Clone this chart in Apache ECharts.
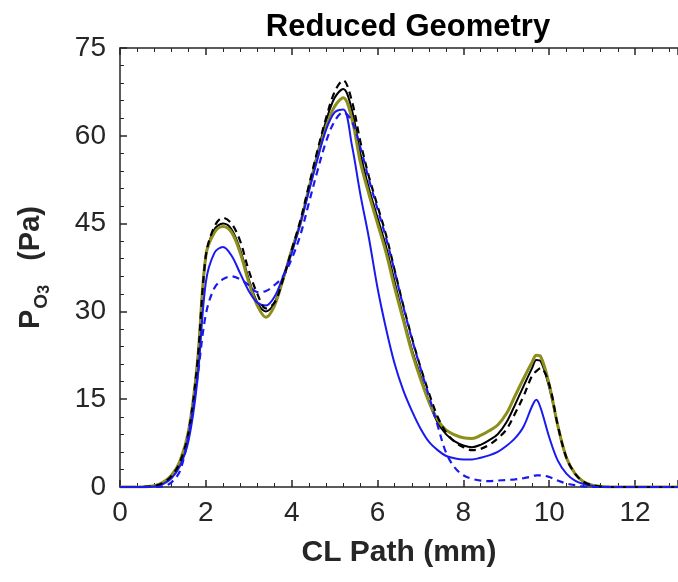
<!DOCTYPE html>
<html>
<head>
<meta charset="utf-8">
<script src="https://cdn.jsdelivr.net/npm/echarts@6/dist/echarts.min.js"></script>
<style>
html,body{margin:0;padding:0;background:#fff;}
#chart{width:678px;height:582px;}
</style>
</head>
<body>
<div id="chart"></div>
<script>
// CL path positions (mm)
const xValues = [0, 0.5, 0.8, 1.0, 1.2, 1.4, 1.6, 1.8, 2.0, 2.2, 2.4, 2.6, 2.8, 3.0, 3.2, 3.4, 3.6, 3.8, 4.0,
  4.2, 4.4, 4.6, 4.8, 5.0, 5.2, 5.4, 5.6, 5.8, 6.0, 6.2, 6.4, 6.6, 6.8, 7.0, 7.2, 7.4, 7.6, 7.8, 8.0,
  8.2, 8.4, 8.6, 8.8, 9.0, 9.2, 9.4, 9.6, 9.7, 9.8, 10.0, 10.2, 10.4, 10.6, 10.8, 11.0, 11.2, 11.5, 12.0, 13.0];

const blackSolid = [0, 0, 0.2, 0.7, 1.9, 4.3, 9.5, 21, 39.5, 44, 45, 44, 40.5, 35.5, 31.5, 30, 31.5, 35.5, 40.5,
  45, 51, 57, 62.5, 66.5, 68, 64.5, 57, 51, 46, 41, 35, 29, 23.5, 19, 14.5, 11, 9, 7.8, 7.1,
  6.8, 7.2, 8, 9, 11, 14, 17.2, 20.3, 21.7, 21.5, 17, 10.5, 5, 2.3, 0.9, 0.3, 0.1, 0, 0, 0];

const oliveSolid = [0, 0, 0.2, 0.8, 2.0, 4.5, 9.7, 21, 39.5, 43.5, 44.5, 43.5, 40, 35, 31, 29, 31, 35.5, 40.5,
  45, 51, 56.5, 61.5, 65, 66.5, 63, 55.5, 50, 45, 40, 34, 28.5, 23, 18.5, 14.5, 11.5, 9.7, 8.9, 8.4,
  8.3, 8.8, 9.6, 10.6, 12.5, 15.5, 18.5, 21.3, 22.5, 22.3, 17.5, 10.5, 5, 2.3, 0.9, 0.3, 0.1, 0, 0, 0];

const blackDashed = [0, 0, 0.2, 0.7, 1.9, 4.3, 9.5, 21, 39.5, 44.5, 46, 45, 42, 37, 33, 30.5, 31.5, 35.5, 40.5,
  45.5, 51.5, 57.5, 63, 67.5, 69.5, 66, 59, 53, 48, 43, 37, 31, 25.5, 20.5, 16, 12, 9.3, 7.7, 6.8,
  6.3, 6.5, 7.2, 8.3, 9.8, 12.5, 15.5, 19, 19.8, 20.3, 17.5, 10.5, 5, 2.3, 0.9, 0.3, 0.1, 0, 0, 0];

const blueSolid = [0, 0, 0.1, 0.5, 1.5, 3.6, 8, 18, 35, 40, 41, 39.5, 36.5, 33.5, 31.5, 31, 32.5, 36, 40,
  45, 50.5, 56, 61, 64, 64.5, 58.5, 50, 42.5, 34, 27, 21, 16.5, 13, 10, 7.7, 6.3, 5.3, 4.9, 4.7,
  4.7, 5, 5.4, 6, 7, 8.3, 10.3, 13.8, 14.9, 13.5, 8.5, 4.5, 2.3, 1.1, 0.5, 0.2, 0, 0, 0, 0];

const blueDashed = [0, 0, 0, 0.1, 0.8, 2.8, 9, 18.5, 29.5, 34, 35.5, 36, 35.5, 34.5, 33.3, 33.5, 34.5, 36, 39,
  43, 48.5, 54, 59, 62.5, 64, 62.5, 58, 52.5, 47.5, 42.5, 36.8, 30.8, 25.3, 20.3, 15.5, 10.5, 5.8, 3.3, 2,
  1.4, 1.1, 1, 1.1, 1.2, 1.3, 1.5, 1.8, 2, 2, 1.7, 1.1, 0.6, 0.3, 0.1, 0, 0, 0, 0, 0];

const titleText = 'Reduced Geometry';
const xName = 'CL Path (mm)';

const pairs = arr => xValues.map((x, i) => [x, arr[i]]);

const AX = '#262626';
const FONT = 'Liberation Sans, Arial, Helvetica, sans-serif';

const baseX = {
  type: 'value', min: 0, max: 13, interval: 2,
  axisLine: {show: true, onZero: false, lineStyle: {color: AX, width: 1.5}},
  axisTick: {show: true, inside: true, length: 7, lineStyle: {color: AX, width: 1.5}},
  minorTick: {show: true, splitNumber: 5, length: 4, lineStyle: {color: AX, width: 1}},
  splitLine: {show: false},
  minorSplitLine: {show: false}
};

const chart = echarts.init(document.getElementById('chart'), null, {renderer: 'canvas'});
const lineSeries = (name, data, color, width, dashed, z) => ({
  name, type: 'line', data: pairs(data), showSymbol: false, symbol: 'none',
  smooth: 0.35, z: z,
  lineStyle: {color, width, type: dashed ? [7, 5] : 'solid'}
});

chart.setOption({
  animation: false,
  backgroundColor: '#fff',
  title: {
    text: titleText, left: 403, top: 7, textAlign: 'center',
    textStyle: {fontFamily: FONT, fontWeight: 'bold', fontSize: 31, color: '#000'}
  },
  grid: {left: 120, right: -9, top: 48, bottom: 95, containLabel: false},
  xAxis: [
    Object.assign({}, baseX, {
      position: 'bottom',
      name: xName, nameLocation: 'middle', nameGap: 51,
      nameTextStyle: {fontFamily: FONT, fontWeight: 'bold', fontSize: 30, color: AX},
      axisLabel: {show: true, margin: 12, fontFamily: FONT, fontSize: 28, color: AX, showMaxLabel: false}
    }),
    Object.assign({}, baseX, {
      position: 'top', axisLabel: {show: false}
    })
  ],
  yAxis: [{
    type: 'value', min: 0, max: 75, interval: 15,
    axisLine: {show: true, lineStyle: {color: AX, width: 1.5}},
    axisTick: {show: true, inside: true, length: 7, lineStyle: {color: AX, width: 1.5}},
    minorTick: {show: true, splitNumber: 5, length: 4, lineStyle: {color: AX, width: 1}},
    splitLine: {show: false},
    axisLabel: {show: true, margin: 14, fontFamily: FONT, fontSize: 28, color: AX},
    name: '{p|P}{o|O}{t|3}{s|   (Pa)}',
    nameLocation: 'middle', nameRotate: 90, nameGap: 66,
    nameTextStyle: {
      fontFamily: FONT, fontWeight: 'bold', fontSize: 28, color: AX,
      rich: {
        p: {fontFamily: FONT, fontWeight: 'bold', fontSize: 29, color: AX, lineHeight: 46, verticalAlign: 'middle'},
        o: {fontFamily: FONT, fontWeight: 'bold', fontSize: 19, color: AX, lineHeight: 46, verticalAlign: 'bottom', padding: [0, 0, 3, 1]},
        t: {fontFamily: FONT, fontWeight: 'bold', fontSize: 16, color: AX, lineHeight: 46, verticalAlign: 'bottom', padding: [0, 0, 1, 0]},
        s: {fontFamily: FONT, fontWeight: 'bold', fontSize: 29, color: AX, lineHeight: 46, verticalAlign: 'middle'}
      }
    }
  }],
  series: [
    lineSeries('black solid', blackSolid, '#000000', 2, false, 2),
    lineSeries('olive solid', oliveSolid, '#8e8e1c', 3, false, 3),
    lineSeries('blue solid', blueSolid, '#1a1af0', 2, false, 4),
    lineSeries('black dashed', blackDashed, '#000000', 2.2, true, 5),
    lineSeries('blue dashed', blueDashed, '#1a1af0', 2.2, true, 6)
  ]
});
</script>
</body>
</html>
